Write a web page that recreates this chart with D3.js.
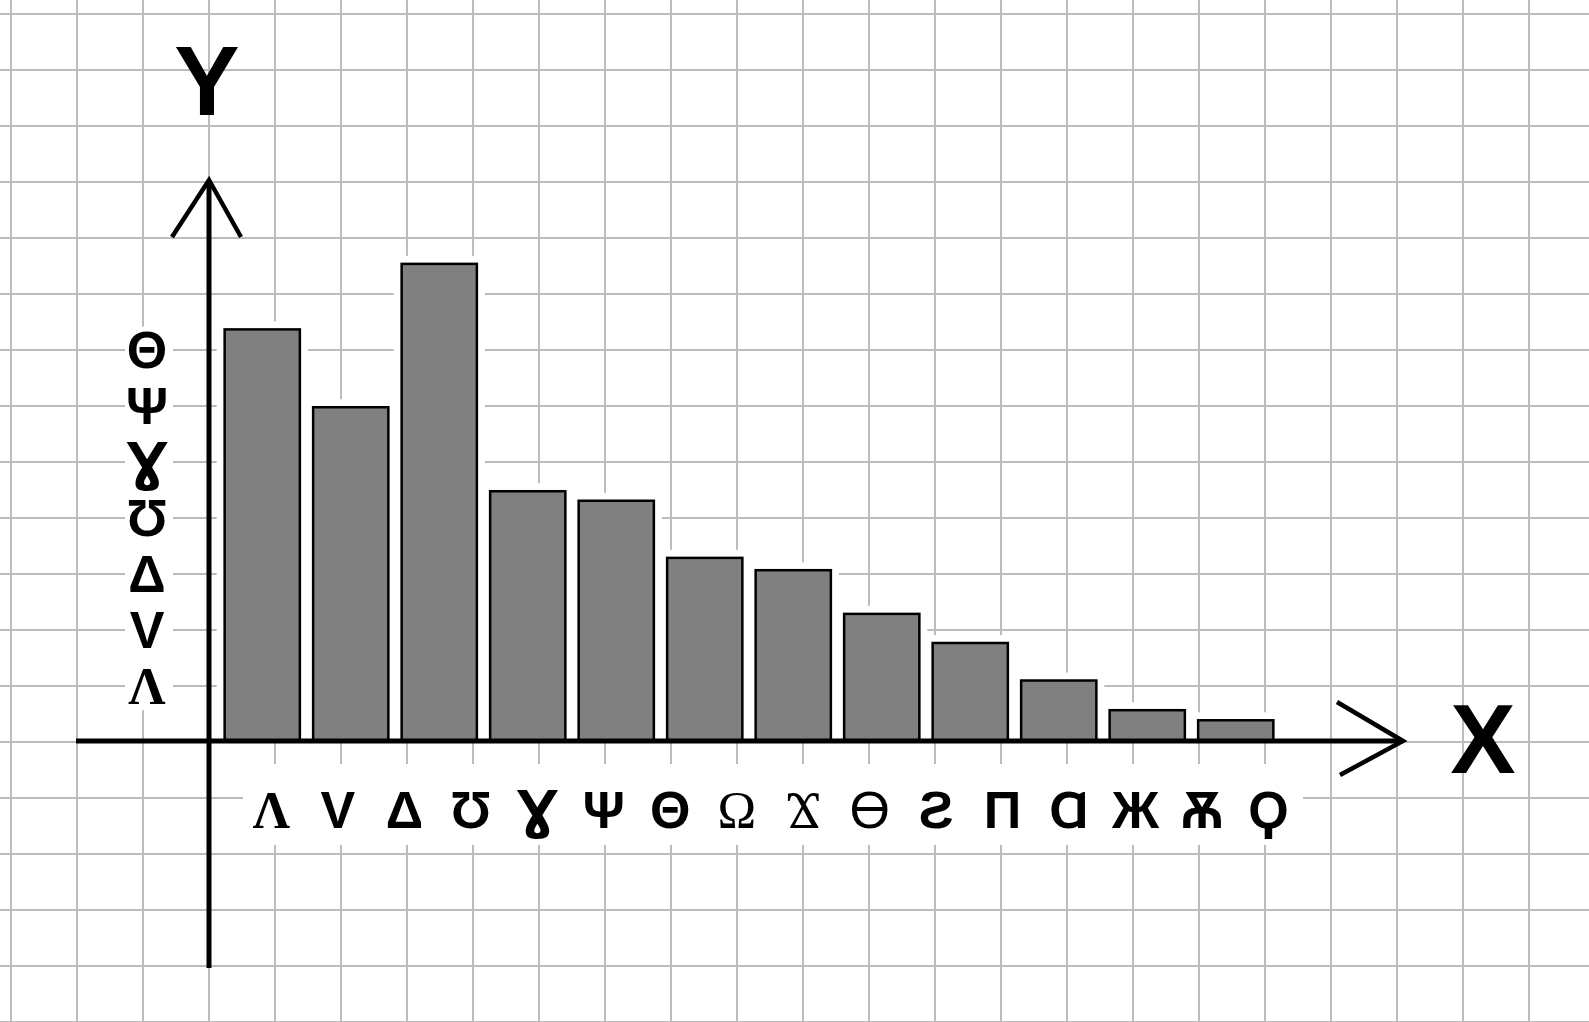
<!DOCTYPE html>
<html>
<head>
<meta charset="utf-8">
<script src="https://cdn.jsdelivr.net/npm/d3@7"></script>
<style>
  html, body { margin: 0; padding: 0; background: #fff; }
  svg { display: block; }
</style>
</head>
<body>
<svg id="chart" width="1589" height="1022"></svg>
<script>
// ---- data ----
const barIds = [1, 2, 3, 4, 5, 6, 7, 8, 9, 10, 11, 12];
const barValues = [7.35, 5.96, 8.52, 4.46, 4.29, 3.27, 3.05, 2.27, 1.75, 1.08, 0.55, 0.37];
const xTickLabels = ["Λ", "V", "Δ", "Ʊ", "Ɣ", "Ψ", "Θ", "Ω", "Ϫ", "ϴ", "Ƨ", "Π", "Ɑ", "Ж", "Ѫ", "Ϙ"];
const yTickValues = [1, 2, 3, 4, 5, 6, 7];
const yTickLabels = ["Λ", "V", "Δ", "Ʊ", "Ɣ", "Ψ", "Θ"];
const serifLabels = ["Λ", "Ω", "Ϫ"];
const thinLabels = ["Ω", "Ϫ", "ϴ"];
const dejavuLabels = ["Ɣ"];
const gridCols = d3.range(0, 25);
const gridRows = d3.range(0, 19);

// ---- setup ----
const W = 1589, H = 1022;
const svg = d3.select("#chart");
const sans = "'Liberation Sans', Arial, 'DejaVu Sans', sans-serif";
const serif = "'Liberation Serif', 'Times New Roman', 'DejaVu Serif', serif";
const dejavu = "'DejaVu Sans', sans-serif";
const fontFor = d => serifLabels.includes(d) ? serif : (dejavuLabels.includes(d) ? dejavu : sans);

// grid-paper scales
const gx = d3.scaleLinear().domain([0, 1]).range([11, 77]);
const gy = d3.scaleLinear().domain([0, 1]).range([14, 70]);

// data scales
const y = d3.scaleLinear().domain([0, 1]).range([741, 685]);
const x = d3.scaleBand().domain(barIds).range([218, 1280]).paddingInner(0.15).paddingOuter(0.075);
const xl = d3.scalePoint().domain(xTickLabels).range([271, 1268]);

// ---- grid ----
const grid = svg.append("g").attr("stroke", "#bcbcbc").attr("stroke-width", 2);
grid.selectAll("line.v").data(gridCols).join("line").attr("class", "v")
  .attr("x1", d => gx(d)).attr("x2", d => gx(d)).attr("y1", 0).attr("y2", H);
grid.selectAll("line.h").data(gridRows).join("line").attr("class", "h")
  .attr("y1", d => gy(d)).attr("y2", d => gy(d)).attr("x1", 0).attr("x2", W);

// ---- white halos behind bars ----
const pad = 8;
svg.append("g").selectAll("rect").data(barIds).join("rect")
  .attr("x", d => x(d) - pad)
  .attr("width", x.bandwidth() + 2 * pad)
  .attr("y", (d, i) => y(barValues[i]) - pad)
  .attr("height", (d, i) => y(0) - y(barValues[i]) + pad)
  .attr("fill", "#fff");

// ---- bars ----
svg.append("g").selectAll("rect").data(barIds).join("rect")
  .attr("x", d => x(d))
  .attr("width", x.bandwidth())
  .attr("y", (d, i) => y(barValues[i]))
  .attr("height", (d, i) => y(0) - y(barValues[i]))
  .attr("fill", "#808080")
  .attr("stroke", "#000")
  .attr("stroke-width", 2.5);

// ---- label background bands ----
svg.append("rect").attr("x", 243).attr("y", 764).attr("width", 1060).attr("height", 81).attr("fill", "#fff");
svg.append("rect").attr("x", 125).attr("y", y(7.4)).attr("width", 48).attr("height", y(0.55) - y(7.4)).attr("fill", "#fff");

// ---- x tick labels (axis) ----
const xAxisG = svg.append("g")
  .call(d3.axisBottom(xl).tickSize(0).tickPadding(0));
xAxisG.select(".domain").remove();
xAxisG.selectAll("text")
  .attr("y", 828).attr("dy", 0)
  .attr("fill", "#000")
  .style("font-size", "52px")
  .style("font-family", d => fontFor(d))
  .style("font-weight", d => thinLabels.includes(d) ? "normal" : "bold");

// ---- y tick labels (axis) ----
const yAxisG = svg.append("g").attr("transform", "translate(147,0)")
  .call(d3.axisLeft(y).tickValues(yTickValues).tickSize(0).tickPadding(0)
    .tickFormat((d, i) => yTickLabels[i]));
yAxisG.select(".domain").remove();
yAxisG.selectAll("text")
  .attr("x", 0).attr("dy", "0.36em")
  .attr("text-anchor", "middle")
  .attr("fill", "#000")
  .style("font-size", "52px")
  .style("font-family", (d, i) => fontFor(yTickLabels[i]))
  .style("font-weight", "bold");

// ---- axes lines with arrows ----
const axes = svg.append("g").attr("stroke", "#000").attr("fill", "none")
  .attr("stroke-width", 5).attr("stroke-linecap", "butt");
const yTop = 180, yBottom = 968;
const xLeft = 76, xRight = 1403;
axes.append("line").attr("x1", 209).attr("x2", 209).attr("y1", yTop).attr("y2", yBottom);
axes.append("line").attr("x1", xLeft).attr("x2", xRight).attr("y1", y(0)).attr("y2", y(0));
axes.append("polyline").attr("stroke-width", 4.5).attr("stroke-linejoin", "miter")
  .attr("points", `172,237 209,${yTop} 241,237`);
axes.append("polyline").attr("stroke-width", 4.5).attr("stroke-linejoin", "miter")
  .attr("points", `1337,702 ${xRight},${y(0)} 1340,775`);

// ---- axis titles ----
svg.append("text").attr("x", 207).attr("y", 115).attr("text-anchor", "middle")
  .style("font-family", sans).style("font-weight", "bold").style("font-size", "98px")
  .text("Y");
svg.append("text").attr("x", 1483).attr("y", 773).attr("text-anchor", "middle")
  .style("font-family", sans).style("font-weight", "bold").style("font-size", "98px")
  .text("X");
</script>
</body>
</html>
